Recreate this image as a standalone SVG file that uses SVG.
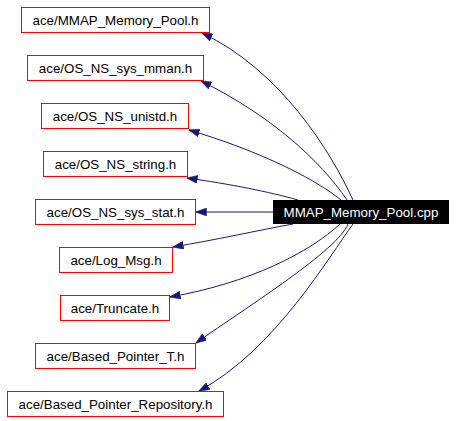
<svg xmlns="http://www.w3.org/2000/svg" width="456" height="421" viewBox="0 0 456 421">
<style>
.n rect{fill:#fff;stroke:#ff0000;stroke-width:1}
.n text{font-family:"Liberation Sans",Arial,sans-serif;font-size:13.33px;fill:#000;text-anchor:middle}
#root rect{fill:#000;stroke:#000}
#root text{fill:#fff}
.e path{fill:none;stroke:#191970;stroke-width:1;marker-end:url(#ah)}
</style>
<defs>
<marker id="ah" viewBox="0 0 11 8" markerWidth="11" markerHeight="8" refX="10.5" refY="4" orient="auto" markerUnits="userSpaceOnUse">
<path d="M0,0 L11,4 L0,8 z" fill="#191970" stroke="#191970" stroke-width="0.5"/>
</marker>
</defs>
<rect width="456" height="421" fill="#fff"/>
<g id="edges" class="e">
<path d="M353,200 C330,150 280,70 202,33"/>
<path d="M347,200 C320,160 270,115 201,81"/>
<path d="M341,200 C310,175 250,148 189,130"/>
<path d="M298,200 C270,192 230,184 187,178"/>
<path d="M273,212 L196,212"/>
<path d="M293,224 C260,230 215,240 173,247"/>
<path d="M340,224 C310,252 250,283 170,297"/>
<path d="M348,224 C338,250 250,305 196,343"/>
<path d="M353,224 C330,255 275,350 199,391"/>
</g>
<g id="root" class="n"><rect x="273.5" y="200.5" width="175" height="23"/><text x="361" y="216.5">MMAP_Memory_Pool.cpp</text></g>
<g id="n1" class="n"><rect x="21.5" y="7.5" width="188" height="25"/><text x="115.5" y="24.5">ace/MMAP_Memory_Pool.h</text></g>
<g id="n2" class="n"><rect x="27.5" y="55.5" width="176" height="25"/><text x="115.5" y="72.5">ace/OS_NS_sys_mman.h</text></g>
<g id="n3" class="n"><rect x="41.5" y="103.5" width="147" height="25"/><text x="115" y="120.5">ace/OS_NS_unistd.h</text></g>
<g id="n4" class="n"><rect x="43.5" y="151.5" width="144" height="25"/><text x="115.5" y="168.5">ace/OS_NS_string.h</text></g>
<g id="n5" class="n"><rect x="35.5" y="199.5" width="160" height="25"/><text x="115.5" y="216.5">ace/OS_NS_sys_stat.h</text></g>
<g id="n6" class="n"><rect x="59.5" y="247.5" width="113" height="25"/><text x="116" y="264.5">ace/Log_Msg.h</text></g>
<g id="n7" class="n"><rect x="60.5" y="295.5" width="109" height="25"/><text x="115" y="312.5">ace/Truncate.h</text></g>
<g id="n8" class="n"><rect x="35.5" y="343.5" width="160" height="25"/><text x="115.5" y="360.5">ace/Based_Pointer_T.h</text></g>
<g id="n9" class="n"><rect x="7.5" y="391.5" width="216" height="25"/><text x="115.5" y="408.5">ace/Based_Pointer_Repository.h</text></g>
</svg>
